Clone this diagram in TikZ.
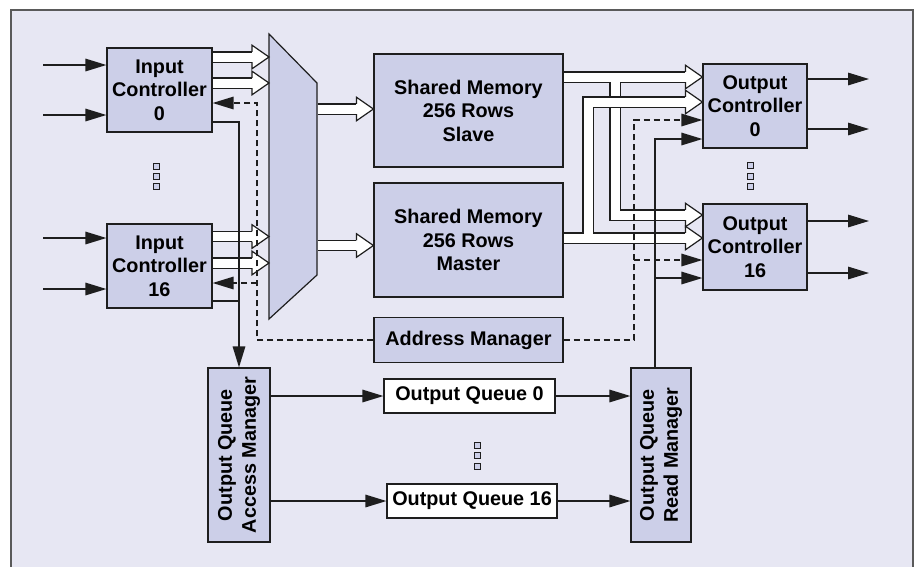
\documentclass[tikz,border=0pt]{standalone}
\usepackage{fontspec}
\setmainfont{Liberation Sans}
\usetikzlibrary{arrows.meta}
\definecolor{bgc}{RGB}{231,231,243}
\definecolor{boxc}{RGB}{204,207,232}
\definecolor{linec}{RGB}{30,30,30}
\definecolor{framec}{RGB}{90,90,90}
\tikzset{
 box/.style={draw=linec, line width=1.2pt, fill=boxc, inner sep=0pt, align=center, font=\bfseries\fontsize{19.8}{23.5}\selectfont},
 wbox/.style={box, fill=white},
 ln/.style={draw=linec, line width=1.5pt},
 dsh/.style={draw=linec, line width=1.5pt, dash pattern=on 6pt off 4pt},
 tip/.style={-{Triangle[length=21pt,width=12.5pt]}},
 bandout/.style={draw=linec, line width=11.4pt, shorten >=17pt, shorten <=0.6pt, line join=miter},
 bandin/.style={draw=white, line width=9pt, shorten >=16pt, shorten <=0.6pt, line join=miter},
 headln/.style={draw=linec, line width=1.2pt, line join=miter},
 dotsq/.style={draw=linec, line width=0.8pt, fill=boxc, minimum size=6pt, inner sep=0pt},
 rtext/.style={rotate=90, align=center, inner sep=0pt, font=\bfseries\fontsize{19.8}{24}\selectfont},
}
\newcommand\hhead[1]{\fill[white] (#1) -- ++(-17,-11.8) -- ++(0,23.6) -- cycle;
  \draw[headln] (#1) ++(-17,-5.1) -- ++(0,-6.7) -- (#1) -- ++(-17,11.8) -- ++(0,-6.7);}
\newcommand\harrow[2]{\draw[bandout] #1 -- (#2); \draw[bandin] #1 -- (#2); \hhead{#2}}
\begin{document}
\begin{tikzpicture}[x=1pt,y=-1pt]
\path[use as bounding box] (0,0) rectangle (917,566);
\draw[fill=bgc, draw=framec, line width=1.5pt] (11,10) rectangle (913,585);

% boxes
\node[box, minimum width=105pt, minimum height=84pt] (ic0) at (159.5,90) {Input\\Controller\\0};
\node[box, minimum width=105pt, minimum height=84pt] (ic16) at (159.5,266) {Input\\Controller\\16};
\node[box, minimum width=189pt, minimum height=113pt] (sms) at (468.5,110.5) {Shared Memory\\256 Rows\\Slave};
\node[box, minimum width=189pt, minimum height=114pt] (smm) at (468.5,240) {Shared Memory\\256 Rows\\Master};
\node[box, minimum width=189pt, minimum height=45pt] (am) at (468.5,340) {Address Manager};
\node[box, minimum width=104pt, minimum height=84pt] (oc0) at (755,106) {Output\\Controller\\0};
\node[box, minimum width=104pt, minimum height=86pt] (oc16) at (755,247) {Output\\Controller\\16};
\node[box, minimum width=62pt, minimum height=174pt] (oqam) at (239,455) {};
\node[rtext] (oqamt) at (oqam) {Output Queue\\Access Manager};
\node[box, minimum width=60pt, minimum height=174pt] (oqrm) at (661,455) {};
\node[rtext] (oqrmt) at (oqrm) {Output Queue\\Read Manager};
\node[wbox, minimum width=171pt, minimum height=34pt] (oq0) at (469.5,396) {Output Queue 0};
\node[wbox, minimum width=170pt, minimum height=34pt] (oq16) at (472,501) {Output Queue 16};

% mux
\coordinate (muxTL) at (269,34);
\coordinate (muxTR) at (317,83);
\coordinate (muxBR) at (317,275);
\coordinate (muxBL) at (269,319);
\draw[fill=boxc, draw=linec, line width=1.2pt, line join=miter] (muxTL) -- (muxTR) -- (muxBR) -- (muxBL) -- cycle;

% dots
\node[dotsq] (dA1) at (156,166) {};
\node[dotsq] (dA2) at (156,176) {};
\node[dotsq] (dA3) at (156,186) {};
\node[dotsq] (dB1) at (750.5,165.5) {};
\node[dotsq] (dB2) at (750.5,176) {};
\node[dotsq] (dB3) at (750.5,186.5) {};
\node[dotsq] (dC1) at (477,445.5) {};
\node[dotsq] (dC2) at (477,455.7) {};
\node[dotsq] (dC3) at (477,466) {};

% hollow arrows: inputs to mux
\harrow{(ic0.east |- 0,57)}{muxTL |- 0,57}
\harrow{(ic0.east |- 0,83)}{muxTL |- 0,83}
\harrow{(ic16.east |- 0,236.5)}{muxTL |- 0,236.5}
\harrow{(ic16.east |- 0,263)}{muxTL |- 0,263}
% mux to memories
\harrow{(muxTR |- 0,109)}{sms.west |- 0,109}
\harrow{(muxTR |- 0,245.5)}{smm.west |- 0,245.5}

% memories to output controllers
\coordinate (sB) at (615,77);
\coordinate (mB) at (588,238);
\draw[bandout] (sms.east |- sB) -- (oc0.west |- sB);
\draw[bandout] (sB) -- (sB |- 0,215) -- (oc16.west |- 0,215);
\draw[bandin] (sms.east |- sB) -- (oc0.west |- sB);
\draw[bandin] (sB) -- (sB |- 0,215) -- (oc16.west |- 0,215);
\draw[bandout] (smm.east |- mB) -- (oc16.west |- mB);
\draw[bandout] (mB) -- (mB |- 0,102) -- (oc0.west |- 0,102);
\draw[bandin] (smm.east |- mB) -- (oc16.west |- mB);
\draw[bandin] (mB) -- (mB |- 0,102) -- (oc0.west |- 0,102);
\hhead{oc0.west |- sB}
\hhead{oc0.west |- 0,102}
\hhead{oc16.west |- 0,215}
\hhead{oc16.west |- mB}

% input / output arrows
\coordinate (in0a) at (43,65);
\coordinate (in0b) at (43,115);
\coordinate (in16a) at (43,238);
\coordinate (in16b) at (43,289);
\draw[ln,tip] (in0a) -- (ic0.west |- in0a);
\draw[ln,tip] (in0b) -- (ic0.west |- in0b);
\draw[ln,tip] (in16a) -- (ic16.west |- in16a);
\draw[ln,tip] (in16b) -- (ic16.west |- in16b);
\coordinate (out0a) at (869,79);
\coordinate (out0b) at (869,129);
\coordinate (out16a) at (869,221);
\coordinate (out16b) at (869,273);
\draw[ln,tip] (oc0.east |- out0a) -- (out0a);
\draw[ln,tip] (oc0.east |- out0b) -- (out0b);
\draw[ln,tip] (oc16.east |- out16a) -- (out16a);
\draw[ln,tip] (oc16.east |- out16b) -- (out16b);

% input controllers to access manager
\draw[ln,tip] (ic0.east |- 0,122) -- (oqam.north |- 0,122) -- (oqam.north);
\draw[ln] (ic16.east |- 0,301) -- (oqam.north |- 0,301);

% address manager dashed links
\coordinate (dL) at (257,340);
\draw[dsh,tip] (am.west) -- (dL) -- (dL |- 0,103) -- (ic0.east |- 0,103);
\draw[dsh,tip] (dL |- 0,283) -- (ic16.east |- 0,283);
\coordinate (dR) at (634,340);
\draw[dsh,tip] (am.east) -- (dR) -- (dR |- 0,120) -- (oc0.west |- 0,120);
\draw[dsh,tip] (dR |- 0,260) -- (oc16.west |- 0,260);

% read manager to output controllers
\coordinate (rU) at (655,139);
\draw[ln,tip] (oqrm.north -| rU) -- (rU) -- (oc0.west |- rU);
\draw[ln,tip] (rU |- 0,278) -- (oc16.west |- 0,278);

% queues
\draw[ln,tip] (oqam.east |- oq0.west) -- (oq0.west);
\draw[ln,tip] (oq0.east) -- (oqrm.west |- oq0.east);
\draw[ln,tip] (oqam.east |- oq16.west) -- (oq16.west);
\draw[ln,tip] (oq16.east) -- (oqrm.west |- oq16.east);
\end{tikzpicture}
\end{document}
